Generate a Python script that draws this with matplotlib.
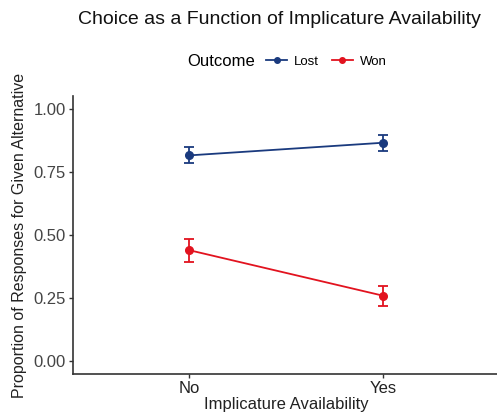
import matplotlib
matplotlib.use("Agg")
import matplotlib.pyplot as plt
from matplotlib.lines import Line2D
from matplotlib.offsetbox import HPacker

plt.rcParams['font.family'] = ['Liberation Sans', 'DejaVu Sans']

categories = ["No", "Yes"]
outcomes = ["Lost", "Won"]
lost_vals = [0.815, 0.865]
lost_err = [0.032, 0.032]
won_vals = [0.44, 0.26]
won_err = [0.046, 0.04]
yticks = [0.00, 0.25, 0.50, 0.75, 1.00]
colors = {"Lost": "#1A3A7E", "Won": "#E2131F"}

fig = plt.figure(figsize=(4.97, 4.19), dpi=100)
ax = fig.add_axes([73/497, 1-374/419, (499-73)/497, (374-96)/419])

x = list(range(len(categories)))
for name, vals, errs in [("Lost", lost_vals, lost_err), ("Won", won_vals, won_err)]:
    c = colors[name]
    ax.errorbar(x, vals, yerr=errs, color=c, lw=1.3, marker='o', ms=5.5,
                capsize=3.5, capthick=1.3, elinewidth=1.3)

ax.set_xlim(-0.6, 1.6)
ax.set_ylim(-0.05, 1.05)
ax.set_xticks(x)
ax.set_xticklabels(categories, fontsize=12, color='#222222')
ax.set_yticks(yticks)
ax.set_yticklabels([f"{v:.2f}" for v in yticks], fontsize=12, color='#444444')
for s in ['top', 'right']:
    ax.spines[s].set_visible(False)
for s in ['left', 'bottom']:
    ax.spines[s].set_color('#333333')
    ax.spines[s].set_linewidth(1.2)
ax.tick_params(axis='both', length=3, width=1, color='#333333', pad=2)
ax.set_xlabel("Implicature Availability", fontsize=12, color='#222222', labelpad=1)
ax.set_ylabel("Proportion of Responses for Given Alternative", fontsize=11.5,
              color='#222222', labelpad=5)

fig.text(0.563, 1-20/419, "Choice as a Function of Implicature Availability",
         ha='center', va='center', fontsize=14, color='#111111')

handles = [Line2D([0], [0], color=colors[o], marker='o', ms=4, lw=1.3) for o in outcomes]
leg = fig.legend(handles, outcomes, loc='center', bbox_to_anchor=(0.577, 1-62/419),
                 ncol=2, frameon=False, title="Outcome", fontsize=9.5,
                 title_fontsize=12, handlelength=1.6, handletextpad=0.5,
                 columnspacing=1.0)
title_box = leg._legend_title_box
entries = leg._legend_handle_box
leg._legend_box._children = [HPacker(pad=0, sep=8, align='center', children=[title_box, entries])]

fig.savefig("out.png", dpi=100)
